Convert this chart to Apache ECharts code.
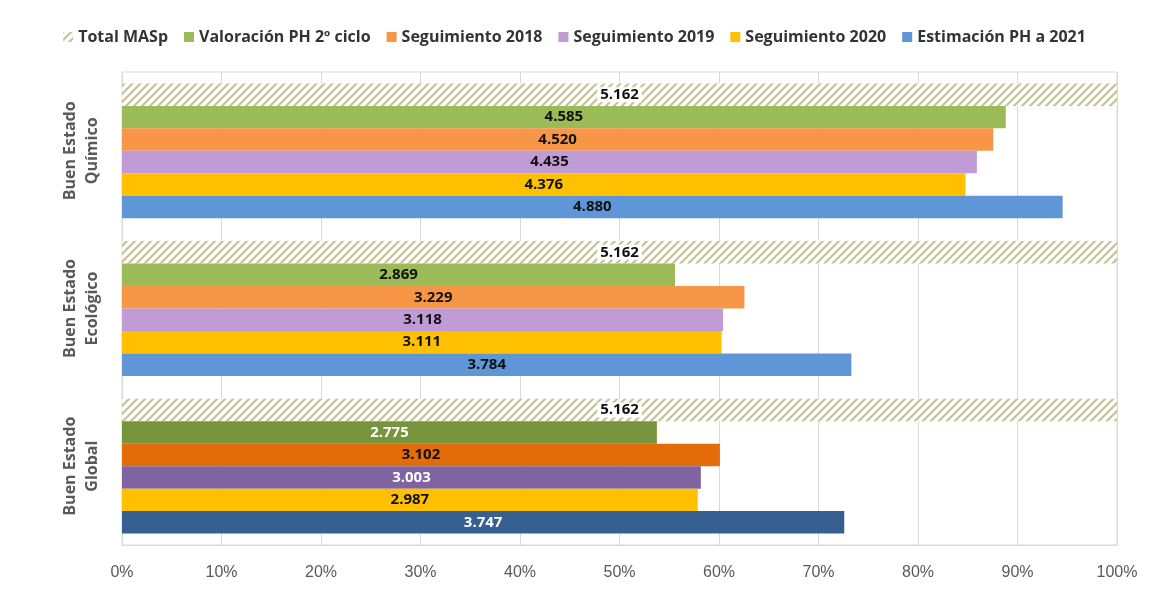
<!DOCTYPE html>
<html>
<head>
<meta charset="utf-8">
<script src="https://cdn.jsdelivr.net/npm/echarts@6/dist/echarts.min.js"></script>
<style>
  html, body { margin: 0; padding: 0; background: #fff; }
  #chart { width: 1149px; height: 592px; }
</style>
</head>
<body>
<div id="chart"></div>
<script>
// categorias (de arriba a abajo)
var categories = ['Buen Estado\nQuímico', 'Buen Estado\nEcológico', 'Buen Estado\nGlobal'];
var seriesNames = ['Total MASp', 'Valoración PH 2º ciclo', 'Seguimiento 2018', 'Seguimiento 2019', 'Seguimiento 2020', 'Estimación PH a 2021'];
// nº de masas por serie, en el orden de categories
var totalMASp   = [5162, 5162, 5162];
var valoracion  = [4585, 2869, 2775];
var seg2018     = [4520, 3229, 3102];
var seg2019     = [4435, 3118, 3003];
var seg2020     = [4376, 3111, 2987];
var estim2021   = [4880, 3784, 3747];
var xTicks = [0, 10, 20, 30, 40, 50, 60, 70, 80, 90, 100];

var colors     = [null, '#9BBB59', '#F79646', '#C09BD6', '#FFC000', '#5F96D8'];
var darkColors = [null, '#77933C', '#E36C09', '#8064A2', '#FFC000', '#376092'];
var darkLabelWhite = [false, true, false, true, false, true];

// trama rayada para Total MASp
function hatch() {
    var c = document.createElement('canvas');
    c.width = 8; c.height = 8;
    var ctx = c.getContext('2d');
    ctx.fillStyle = '#fff';
    ctx.fillRect(0, 0, 8, 8);
    ctx.strokeStyle = '#C4C29A';
    ctx.lineWidth = 2.2;
    ctx.beginPath();
    ctx.moveTo(-2, 10); ctx.lineTo(10, -2);
    ctx.moveTo(-6, 6); ctx.lineTo(6, -6);
    ctx.moveTo(2, 14); ctx.lineTo(14, 2);
    ctx.stroke();
    return {image: c, repeat: 'repeat'};
}

function fmt(v) {
    var s = String(v);
    return s.length > 3 ? s.slice(0, s.length - 3) + '.' + s.slice(-3) : s;
}

var allData = [totalMASp, valoracion, seg2018, seg2019, seg2020, estim2021];
var hatchPattern = hatch();

var series = allData.map(function (arr, si) {
    var lbl = {
        show: true,
        position: 'inside',
        color: '#111',
        fontWeight: 'bold',
        fontSize: 15,
        fontFamily: 'Open Sans',
        formatter: function (p) { return fmt(arr[p.dataIndex]); }
    };
    if (si === 0) {
        lbl.backgroundColor = '#fff';
        lbl.padding = [0, 3];
    }
    return {
        name: seriesNames[si],
        type: 'bar',
        barGap: '0%',
        barCategoryGap: '14.5%',
        itemStyle: {color: si === 0 ? hatchPattern : colors[si]},
        label: lbl,
        data: arr.map(function (v, ci) {
            var item = {value: v / totalMASp[ci] * 100};
            if (ci === 2 && si > 0) {
                item.itemStyle = {color: darkColors[si]};
                if (darkLabelWhite[si]) item.label = {color: '#fff'};
            }
            return item;
        })
    };
});

var chart = echarts.init(document.getElementById('chart'));
chart.setOption({
    animation: false,
    legend: {
        top: 24,
        left: 'center',
        itemWidth: 10,
        itemHeight: 10,
        itemGap: 16,
        icon: 'rect',
        textStyle: {fontSize: 16, fontWeight: 'bold', color: '#333', fontFamily: 'Open Sans'},
        data: seriesNames
    },
    grid: {
        left: 122, right: 32, top: 72, bottom: 47,
        show: true, borderColor: '#d9d9d9', borderWidth: 1
    },
    xAxis: {
        type: 'value',
        min: 0, max: 100, interval: 10,
        axisLine: {show: true, lineStyle: {color: '#d9d9d9'}},
        axisTick: {show: false},
        splitLine: {show: true, lineStyle: {color: '#d9d9d9'}},
        axisLabel: {
            color: '#595959', fontSize: 16, margin: 20, fontFamily: 'Liberation Sans',
            formatter: function (v) { return xTicks.indexOf(v) >= 0 ? v + '%' : ''; }
        }
    },
    yAxis: {
        type: 'category',
        inverse: true,
        data: categories,
        axisLine: {show: true, lineStyle: {color: '#d9d9d9'}},
        axisTick: {show: false},
        axisLabel: {
            rotate: 90, color: '#595959', fontSize: 16, fontWeight: 'bold',
            lineHeight: 22, margin: 19, fontFamily: 'Open Sans'
        }
    },
    series: series
});
</script>
</body>
</html>
